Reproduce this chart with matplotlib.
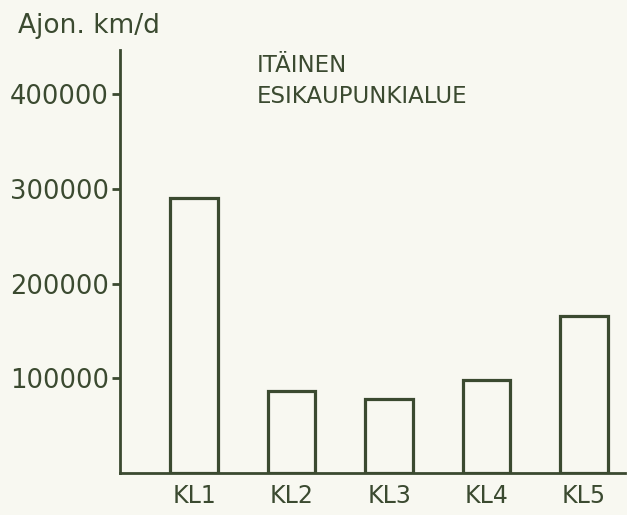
import matplotlib
matplotlib.use('Agg')
import matplotlib.pyplot as plt

# values
areas = ['KL1', 'KL2', 'KL3', 'KL4', 'KL5']
ajokm = [291000, 87000, 78000, 98000, 166000]
yticks = [100000, 200000, 300000, 400000]

ink = '#3b4a30'
paper = '#f8f8f1'

plt.rcParams['font.family'] = ['DejaVu Sans']

fig = plt.figure(figsize=(6.27, 5.15), dpi=100, facecolor=paper)
ax = fig.add_axes([120 / 627, 42 / 515, 505 / 627, 423 / 515])
ax.set_facecolor(paper)

x = range(len(areas))
ax.bar(x, ajokm, width=0.49, facecolor='none', edgecolor=ink, linewidth=2.3)

ax.set_xlim(-0.76, 4.42)
ax.set_ylim(0, 447000)

ax.set_xticks(list(x))
ax.set_xticklabels(areas)
ax.set_yticks(yticks)
ax.set_yticklabels([str(v) for v in yticks])
ax.tick_params(axis='x', length=0, pad=8, labelsize=17, labelcolor=ink)
ax.tick_params(axis='y', direction='out', length=6, width=2, color=ink,
               pad=2, labelsize=18.5, labelcolor=ink)

for side in ['top', 'right']:
    ax.spines[side].set_visible(False)
for side in ['left', 'bottom']:
    ax.spines[side].set_color(ink)
    ax.spines[side].set_linewidth(2)

fig.text(18 / 627, 1 - 26 / 515, 'Ajon. km/d', color=ink, fontsize=19,
         ha='left', va='center')
fig.text(257 / 627, 1 - 81 / 515, 'ITÄINEN\nESIKAUPUNKIALUE', color=ink,
         fontsize=16.5, ha='left', va='center', linespacing=1.45)

fig.savefig('out.png', dpi=100, facecolor=paper)
